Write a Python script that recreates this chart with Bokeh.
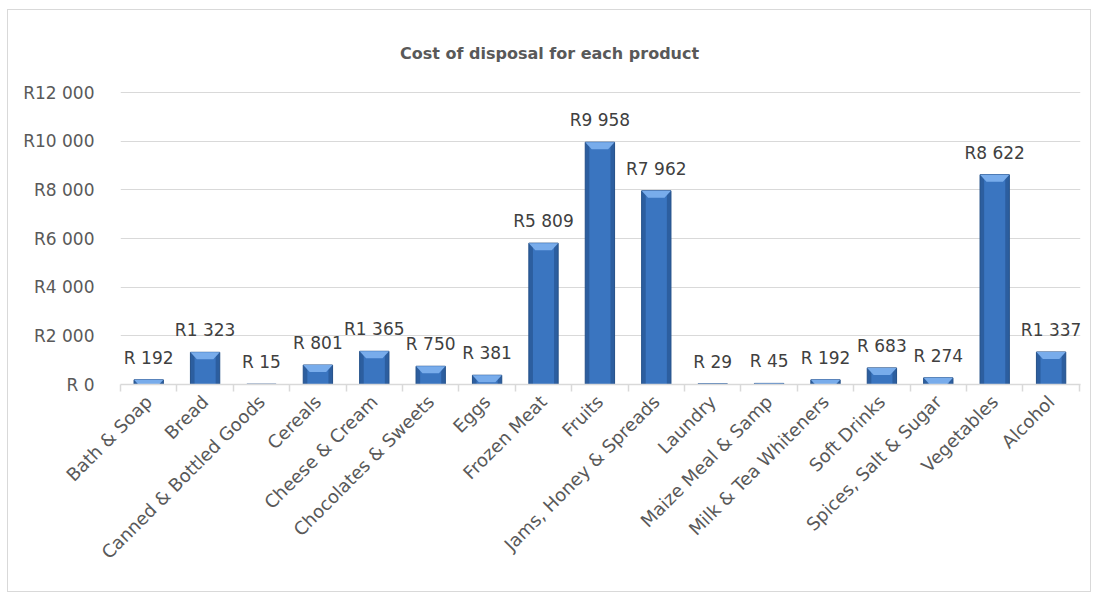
from bokeh.plotting import figure
from bokeh.models import Range1d, FixedTicker, ColumnDataSource
from bokeh.core.properties import value
from bokeh.embed import file_html
from bokeh.resources import INLINE
import math

# Disposal cost per product category (Rand)
products = [
    "Bath & Soap", "Bread", "Canned & Bottled Goods", "Cereals", "Cheese & Cream",
    "Chocolates & Sweets", "Eggs", "Frozen Meat", "Fruits", "Jams, Honey & Spreads",
    "Laundry", "Maize Meal & Samp", "Milk & Tea Whiteners", "Soft Drinks",
    "Spices, Salt & Sugar", "Vegetables", "Alcohol",
]
costs = [192, 1323, 15, 801, 1365, 750, 381, 5809, 9958, 7962,
         29, 45, 192, 683, 274, 8622, 1337]

y_ticks = [0, 2000, 4000, 6000, 8000, 10000, 12000]
y_tick_labels = ["R 0", "R2 000", "R4 000", "R6 000", "R8 000", "R10 000", "R12 000"]

title_text = "Cost of disposal for each product"


def rand_label(v):
    if v >= 1000:
        return "R%d %03d" % (v // 1000, v % 1000)
    return "R %d" % v


FONT = "DejaVu Sans"
TEXT_COLOR = "#595959"
GRID_COLOR = "#d9d9d9"

# figure box inside the page, and the plotting frame inside it (page pixels)
BOX_L, BOX_T, BOX_W, BOX_H = 8, 10, 1082, 581
FRAME_L, FRAME_R, FRAME_T, FRAME_B = 120, 1080, 92, 384
Y_MAX = 12000

n = len(products)
slot_px = 56.4
units_per_px = Y_MAX / (FRAME_B - FRAME_T)
y_end = Y_MAX + units_per_px              # one spare pixel so the top gridline shows
x_end = (FRAME_R - FRAME_L) / slot_px     # a little room past the last category

centers = [i + 0.5 for i in range(n)]
bar_w = 0.52

p = figure(
    width=BOX_W, height=BOX_H,
    x_range=Range1d(0, x_end), y_range=Range1d(0, y_end),
    output_backend="svg", toolbar_location=None,
    min_border_left=FRAME_L - BOX_L,
    min_border_right=BOX_L + BOX_W - FRAME_R,
    min_border_top=FRAME_T - 1 - BOX_T,
    min_border_bottom=BOX_T + BOX_H - FRAME_B,
    margin=(BOX_T, 0, 0, BOX_L),
    styles={"outline": "1px solid #d9d9d9"},
)
p.background_fill_color = "white"
p.border_fill_color = "white"
p.outline_line_color = None

# chart title, centred on the whole chart box
title_w = 299
p.title.text = title_text
p.title.align = "left"
p.title.offset = BOX_L + BOX_W / 2 - title_w / 2 - FRAME_L
p.title.standoff = 57
p.title.text_font = FONT
p.title.text_font_size = "16px"
p.title.text_font_style = "bold"
p.title.text_color = TEXT_COLOR

# grid
p.xgrid.grid_line_color = None
p.ygrid.ticker = FixedTicker(ticks=y_ticks)
p.ygrid.grid_line_color = GRID_COLOR
p.ygrid.grid_line_width = 1

# y axis
ya = p.yaxis[0]
ya.ticker = FixedTicker(ticks=y_ticks)
ya.major_label_overrides = {t: lab for t, lab in zip(y_ticks, y_tick_labels)}
ya.axis_line_color = None
ya.major_tick_line_color = None
ya.minor_tick_line_color = None
ya.major_label_standoff = 20
ya.major_label_text_font = FONT
ya.major_label_text_font_size = "17px"
ya.major_label_text_color = TEXT_COLOR

# x axis: labels at category centres, tick marks at category boundaries
xa = p.xaxis[0]
xa.ticker = FixedTicker(ticks=centers, minor_ticks=list(range(n + 1)))
xa.major_label_overrides = {c: name for c, name in zip(centers, products)}
xa.axis_line_color = GRID_COLOR
xa.axis_line_width = 1.5
xa.major_tick_line_color = None
xa.minor_tick_line_color = GRID_COLOR
xa.minor_tick_line_width = 1.5
xa.minor_tick_in = 0
xa.minor_tick_out = 7
xa.major_label_orientation = math.pi / 4
xa.major_label_standoff = 7
xa.major_label_text_font = FONT
xa.major_label_text_font_size = "18px"
xa.major_label_text_color = TEXT_COLOR

# bars with a bevelled look
src = ColumnDataSource(dict(x=centers, top=costs, label=[rand_label(v) for v in costs]))
p.vbar(x="x", top="top", width=bar_w, source=src,
       fill_color="#2c5e9f", line_color="#234f88", line_width=1)
p.vbar(x="x", top="top", width=bar_w * 0.72, source=src,
       fill_color="#3a75c0", line_color=None)

bevel_h = 7 * units_per_px
bevel_xs, bevel_ys = [], []
for c, v in zip(centers, costs):
    h = min(bevel_h, v)
    inset = bar_w * 0.22 * (h / bevel_h)
    bevel_xs.append([c - bar_w / 2, c + bar_w / 2, c + bar_w / 2 - inset, c - bar_w / 2 + inset])
    bevel_ys.append([v, v, v - h, v - h])
p.patches(bevel_xs, bevel_ys, fill_color="#78aceb", line_color=None)

# value labels
p.text(x="x", y="top", text="label", source=src,
       text_align="center", text_baseline="alphabetic", y_offset=-22,
       text_font=value(FONT), text_font_size="17px", text_color="#404040")

open("out.html", "w").write(file_html(p, INLINE))
